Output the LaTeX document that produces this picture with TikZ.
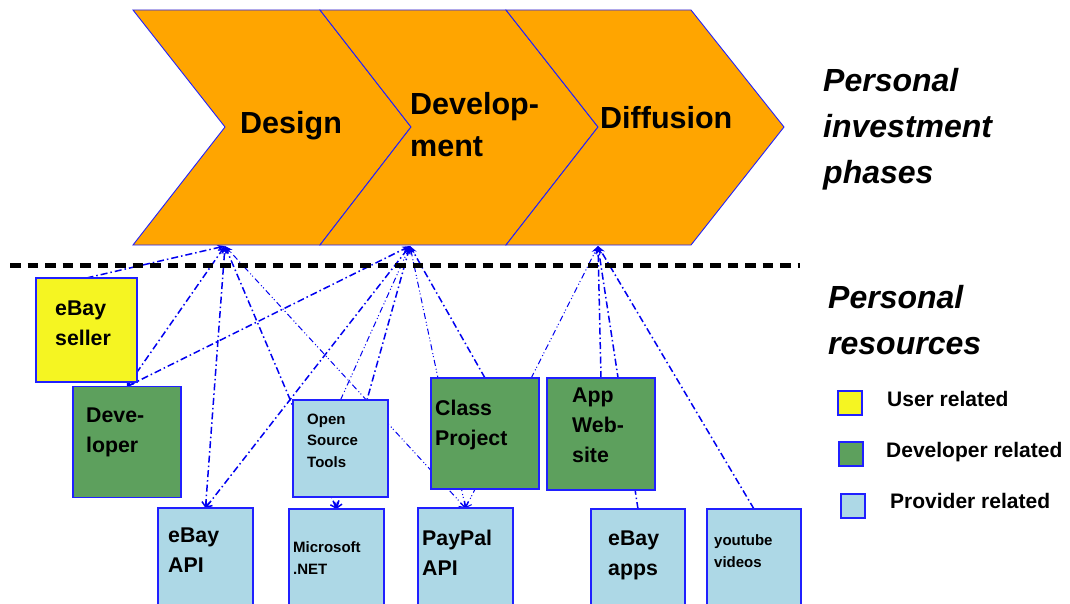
\documentclass[tikz,border=0pt]{standalone}
\usepackage{fontspec}
\setmainfont{Liberation Sans}
\usetikzlibrary{arrows.meta}
\pgfdeclarelayer{bg}
\pgfsetlayers{bg,main}
\definecolor{chev}{HTML}{FFA500}
\definecolor{useryel}{HTML}{F5F522}
\definecolor{devgreen}{HTML}{5DA05D}
\definecolor{provblue}{HTML}{ADD8E6}
\definecolor{edgeblue}{HTML}{2020FF}
\definecolor{linkblue}{HTML}{0000F0}
\begin{document}
\begin{tikzpicture}[x=1pt,y=-1pt,
  chevron/.style={fill=chev, draw=edgeblue, line width=0.9pt, line join=miter},
  box/.style={draw=edgeblue, line width=1.5pt, inner sep=0pt, outer sep=0pt},
  ubox/.style={box, fill=useryel},
  dbox/.style={box, fill=devgreen},
  pbox/.style={box, fill=provblue},
  phasetxt/.style={anchor=base west, inner sep=0pt, align=left, font=\fontsize{30.5}{42}\selectfont\bfseries},
  sidetxt/.style={anchor=base west, inner sep=0pt, align=left, font=\fontsize{32}{46}\selectfont\bfseries\itshape},
  bigtxt/.style={anchor=base west, inner sep=0pt, align=left, font=\fontsize{21.3}{30}\selectfont\bfseries},
  smalltxt/.style={anchor=base west, inner sep=0pt, align=left, font=\fontsize{15}{21.5}\selectfont\bfseries},
  legtxt/.style={anchor=base west, inner sep=0pt, font=\fontsize{21}{24}\selectfont\bfseries},
  link/.style={draw=linkblue, line width=1.5pt, dash pattern=on 7pt off 3pt on 1.5pt off 3pt},
  thinlink/.style={draw=linkblue, line width=1pt, dash pattern=on 6pt off 3pt on 1pt off 2pt on 1pt off 3pt},
  up/.style={-{Stealth[length=8pt,width=6pt]}},
  both/.style={{Straight Barb[length=5pt,width=8pt]}-{Stealth[length=8pt,width=6pt]}}
]
\useasboundingbox (0,0) rectangle (1070,604);
\clip (0,0) rectangle (1070,604);

% chevrons
\draw[chevron] (133,10) -- (320,10) -- (411,127) -- (320,245) -- (133,245) -- (225,127) -- cycle;
\draw[chevron] (320,10) -- (506,10) -- (598,127) -- (506,245) -- (320,245) -- (411,127) -- cycle;
\draw[chevron] (506,10) -- (691,10) -- (784,127) -- (691,245) -- (506,245) -- (598,127) -- cycle;
\coordinate (pDesign) at (225,246);
\coordinate (pDev) at (410,246);
\coordinate (pDiff) at (598,246);

\node[phasetxt] (tDesign) at (240,134) {Design};
\node[phasetxt] (tDev) at (410,157) {Develop-\\ment};
\node[phasetxt] (tDiff) at (600,129) {Diffusion};

% separator
\draw[line width=5pt, dash pattern=on 10.5pt off 7pt] (10,265) -- (800,265);

% side texts
\node[sidetxt] (phases) at (823,183) {Personal\\investment\\phases};
\node[sidetxt] (resources) at (828,354) {Personal\\resources};

% resource boxes
\node[ubox, minimum width=101pt, minimum height=104pt] (seller) at (86.5,330) {};
\node[dbox, minimum width=108pt, minimum height=111pt] (developer) at (127,442) {};
\node[pbox, minimum width=95pt, minimum height=97pt] (ost) at (340.5,448.5) {};
\node[pbox, minimum width=95pt, minimum height=100pt] (ebayapi) at (205.5,558) {};
\node[pbox, minimum width=95pt, minimum height=100pt] (msnet) at (336.5,559) {};
\node[pbox, minimum width=95pt, minimum height=100pt] (paypal) at (465.5,558) {};
\node[dbox, minimum width=108pt, minimum height=111pt] (classp) at (485,433.5) {};
\node[dbox, minimum width=108pt, minimum height=112pt] (appweb) at (601,434) {};
\node[pbox, minimum width=94pt, minimum height=100pt] (ebayapps) at (638,559) {};
\node[pbox, minimum width=94pt, minimum height=100pt] (youtube) at (754,559) {};

\node[bigtxt] (tseller) at (55,345) {eBay\\seller};
\node[bigtxt] (tdeveloper) at (86,452) {Deve-\\loper};
\node[smalltxt] (tost) at (307,467) {Open\\Source\\Tools};
\node[bigtxt] (tebayapi) at (168,572) {eBay\\API};
\node[smalltxt] (tmsnet) at (293,574) {Microsoft\\.NET};
\node[bigtxt] (tpaypal) at (422,575) {PayPal\\API};
\node[bigtxt] (tclassp) at (435,445) {Class\\Project};
\node[bigtxt] (tappweb) at (572,462) {App\\Web-\\site};
\node[bigtxt] (tebayapps) at (608,575) {eBay\\apps};
\node[smalltxt] (tyoutube) at (714,567) {youtube\\videos};

% legend
\node[ubox, minimum width=24pt, minimum height=24pt] (lu) at (850,403) {};
\node[dbox, minimum width=24pt, minimum height=24pt] (ld) at (851,454) {};
\node[pbox, minimum width=24pt, minimum height=24pt] (lp) at (853,506) {};
\node[legtxt] (tlu) at (887,406) {User related};
\node[legtxt] (tld) at (886,457) {Developer related};
\node[legtxt] (tlp) at (890,508) {Provider related};

% connectors
\begin{pgfonlayer}{bg}
\draw[link, up] (seller.north) -- (pDesign);
\draw[link, both] (developer.north) -- (pDesign);
\draw[link, both] (ebayapi.north) -- (pDesign);
\draw[link, both] (msnet.north) -- (pDesign);
\draw[thinlink, both] (paypal.north) -- (pDesign);
\draw[link, both] (developer.north) -- (pDev);
\draw[link, both] (ebayapi.north) -- (pDev);
\draw[thinlink, up] (ost.north) -- (pDev);
\draw[link, both] (msnet.north) -- (pDev);
\draw[thinlink, both] (paypal.north) -- (pDev);
\draw[link, up] (classp.north) -- (pDev);
\draw[thinlink, both] (paypal.north) -- (pDiff);
\draw[link, up] (appweb.north) -- (pDiff);
\draw[link, up] (ebayapps.north) -- (pDiff);
\draw[link, up] (youtube.north) -- (pDiff);
\end{pgfonlayer}
\end{tikzpicture}
\end{document}
